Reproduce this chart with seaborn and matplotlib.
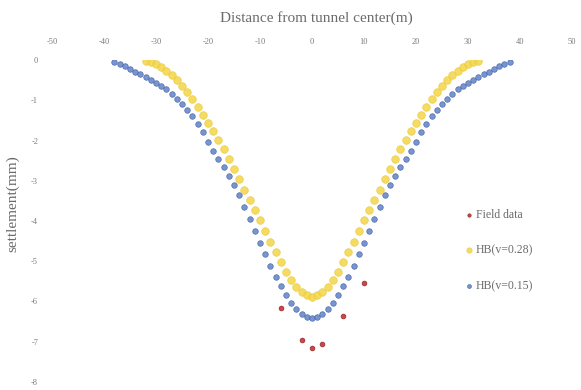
import numpy as np
import pandas as pd
import matplotlib
matplotlib.use("Agg")
import matplotlib.pyplot as plt
import seaborn as sns

# ---- data ----
field_x = [-6, -2, 0, 2, 6, 10]
field_y = [-6.15, -6.95, -7.15, -7.05, -6.35, -5.55]

hb015_x = list(range(-38, 39))
hb015_y = [-0.05, -0.10, -0.15, -0.22, -0.29, -0.36, -0.43, -0.50, -0.57, -0.64,
           -0.73, -0.84, -0.97, -1.10, -1.24, -1.40, -1.58, -1.80, -2.04, -2.26,
           -2.45, -2.66, -2.88, -3.10, -3.36, -3.64, -3.94, -4.24, -4.54, -4.83,
           -5.11, -5.38, -5.62, -5.84, -6.03, -6.18, -6.30, -6.38, -6.40,
           -6.38, -6.30, -6.18, -6.03, -5.84, -5.62, -5.38, -5.11, -4.83, -4.54,
           -4.24, -3.94, -3.64, -3.36, -3.10, -2.88, -2.66, -2.45, -2.26, -2.04,
           -1.80, -1.58, -1.40, -1.24, -1.10, -0.97, -0.84, -0.73, -0.64, -0.57,
           -0.50, -0.43, -0.36, -0.29, -0.22, -0.15, -0.10, -0.05]

hb028_x = list(range(-32, 33))
hb028_y = [-0.02, -0.06, -0.11, -0.18, -0.27, -0.38, -0.50, -0.64, -0.80, -0.98,
           -1.17, -1.36, -1.56, -1.77, -1.98, -2.21, -2.45, -2.70, -2.96, -3.22,
           -3.47, -3.73, -3.98, -4.24, -4.51, -4.77, -5.03, -5.26, -5.47, -5.64,
           -5.77, -5.85, -5.88,
           -5.85, -5.77, -5.64, -5.47, -5.26, -5.03, -4.77, -4.51, -4.24, -3.98,
           -3.73, -3.47, -3.22, -2.96, -2.70, -2.45, -2.21, -1.98, -1.77, -1.56,
           -1.36, -1.17, -0.98, -0.80, -0.64, -0.50, -0.38, -0.27, -0.18, -0.11,
           -0.06, -0.02]

x_ticks = [-50, -40, -30, -20, -10, 0, 10, 20, 30, 40, 50]
y_ticks = [0, -1, -2, -3, -4, -5, -6, -7, -8]

labels = ["Field data", "HB(v=0.28)", "HB(v=0.15)"]

df = pd.concat([
    pd.DataFrame({"x": hb015_x, "y": hb015_y, "series": labels[2]}),
    pd.DataFrame({"x": hb028_x, "y": hb028_y, "series": labels[1]}),
    pd.DataFrame({"x": field_x, "y": field_y, "series": labels[0]}),
], ignore_index=True)

sns.set_theme(style="white")
plt.rcParams["font.family"] = ["Liberation Serif", "DejaVu Serif"]

fig = plt.figure(figsize=(5.81, 3.90), dpi=100)
ax = fig.add_axes([52 / 581, 1 - 382 / 390, 520 / 581, 322 / 390])

palette = {labels[0]: "#C0262B", labels[1]: "#F3D547", labels[2]: "#6283C9"}
edges = {labels[0]: "#8E1B1F", labels[1]: "#EDC93A", labels[2]: "#3F5FA3"}
sizes = {labels[0]: 12, labels[1]: 30, labels[2]: 16}

for lab in [labels[2], labels[1], labels[0]]:
    sub = df[df["series"] == lab]
    sns.scatterplot(data=sub, x="x", y="y", ax=ax, color=palette[lab],
                    s=sizes[lab], edgecolor=edges[lab], linewidth=0.5, label=lab,
                    alpha=0.85, legend=True)

ax.set_xlim(-50, 50)
ax.set_ylim(-8, 0)
ax.set_xticks(x_ticks)
ax.set_yticks(y_ticks)
ax.set_xticklabels([str(t) for t in x_ticks])
ax.set_yticklabels([str(t) for t in y_ticks])
ax.xaxis.tick_top()
ax.tick_params(axis="both", length=0, labelsize=6, colors="#7a7a7a")
ax.tick_params(axis="x", pad=10)
ax.tick_params(axis="y", pad=10)
for sp in ax.spines.values():
    sp.set_visible(False)
ax.set_xlabel("")
ax.set_ylabel("")

fig.text(316 / 581, 1 - 18 / 390, "Distance from tunnel center(m)",
         ha="center", va="center", fontsize=11, color="#6b6b6b")
fig.text(13 / 581, 1 - 204 / 390, "settlement(mm)", rotation=90,
         ha="center", va="center", fontsize=11, color="#6b6b6b")

handles, labs = ax.get_legend_handles_labels()
order = [labs.index(l) for l in labels]
leg = ax.legend([handles[i] for i in order], [labs[i] for i in order],
                loc="upper left", bbox_to_anchor=(452 / 581, 1 - 198 / 390),
                bbox_transform=fig.transFigure, frameon=False, fontsize=8.5,
                labelspacing=2.0, handletextpad=0.1, markerscale=0.7,
                handlelength=1.0)
for t in leg.get_texts():
    t.set_color("#6b6b6b")

fig.savefig("out.png", dpi=100)
